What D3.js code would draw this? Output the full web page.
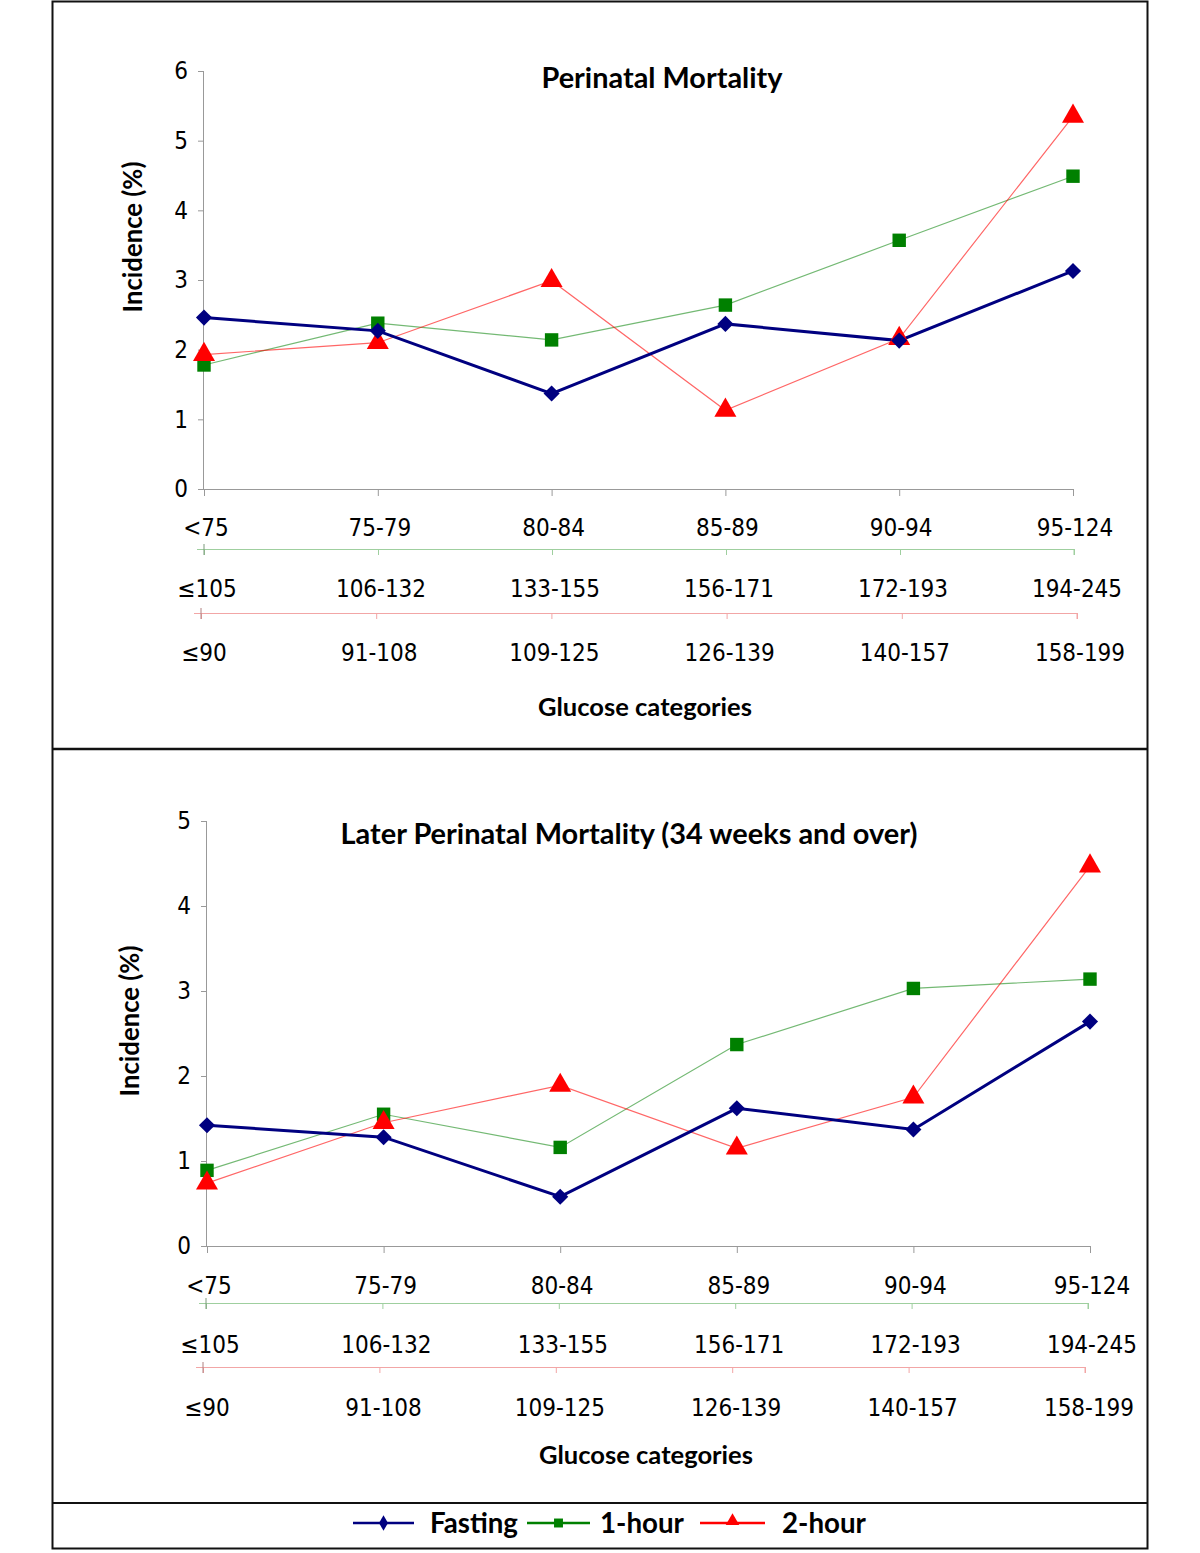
<!DOCTYPE html>
<html><head><meta charset="utf-8">
<script src="https://cdn.jsdelivr.net/npm/d3@7"></script>
<style>body{margin:0;background:#fff}svg{display:block}</style>
</head><body>
<script>
const categoriesFasting = ["<75","75-79","80-84","85-89","90-94","95-124"];
const categories1h = ["≤105","106-132","133-155","156-171","172-193","194-245"];
const categories2h = ["≤90","91-108","109-125","126-139","140-157","158-199"];
const seriesNames = ["Fasting","1-hour","2-hour"];

const perinatalFasting = [2.46, 2.27, 1.37, 2.37, 2.13, 3.13];
const perinatal1h      = [1.78, 2.38, 2.14, 2.64, 3.57, 4.49];
const perinatal2h      = [1.93, 2.10, 2.99, 1.13, 2.16, 5.35];

const laterFasting = [1.42, 1.28, 0.58, 1.62, 1.37, 2.64];
const later1h      = [0.89, 1.55, 1.16, 2.37, 3.03, 3.14];
const later2h      = [0.74, 1.45, 1.89, 1.15, 1.75, 4.47];

const yTicksTop = [0,1,2,3,4,5,6];
const yTicksBottom = [0,1,2,3,4,5];

const W = 1200, H = 1553;
const svg = d3.select("body").append("svg").attr("width", W).attr("height", H);
const BOLD = "Lato, 'Open Sans', sans-serif";
const TICK = "'DejaVu Sans Condensed', 'DejaVu Sans', sans-serif";
const TS = 24;

function fit(t, w){
  const n = t.node(); const cur = parseFloat(t.attr("font-size"));
  const len = n.getComputedTextLength();
  if (len > 0) t.attr("font-size", (cur * w / len).toFixed(2));
}

// borders
svg.append("rect").attr("x",52.5).attr("y",1.5).attr("width",1095).attr("height",1547)
  .attr("fill","none").attr("stroke","#111").attr("stroke-width",2);
svg.append("line").attr("x1",52).attr("x2",1148).attr("y1",749).attr("y2",749).attr("stroke","#111").attr("stroke-width",2.5);
svg.append("line").attr("x1",52).attr("x2",1148).attr("y1",1503).attr("y2",1503).attr("stroke","#111").attr("stroke-width",2);

const colors = {f:"#000080", h1:"#008000", h2:"#ff0000"};

function drawPanel(cfg){
  const g = svg.append("g");
  const x = d3.scalePoint().domain(categoriesFasting).range(cfg.xr);
  const y = d3.scaleLinear().domain(cfg.yd).range(cfg.yr);
  const x1 = d3.scalePoint().domain(categories1h).range(cfg.x1r);
  const x2 = d3.scalePoint().domain(categories2h).range(cfg.x2r);

  // y axis
  const ya = g.append("g").attr("transform",`translate(${cfg.xr[0]},0)`)
    .call(d3.axisLeft(y).tickValues(cfg.yt).tickSize(6).tickPadding(10).tickFormat(d3.format("d")));
  ya.selectAll("path,line").attr("stroke","#999");
  ya.select(".domain").attr("d",`M-0.5,${cfg.yr[1]}V${cfg.yr[0]}`).attr("stroke","#999");
  ya.selectAll("text").attr("font-family",TICK).attr("font-size",TS).attr("fill","#000");

  // x axis main
  const xa = g.append("g").attr("transform",`translate(0,${cfg.yr[0]})`)
    .call(d3.axisBottom(x).tickSize(7).tickFormat(""));
  xa.selectAll("path,line").attr("stroke","#999");
  xa.select(".domain").attr("d",`M${cfg.xr[0]-6},0.5H${cfg.xr[1]}`);

  // labels row 1
  g.append("g").selectAll("text").data(categoriesFasting).join("text")
    .attr("x",(d)=>x(d)+cfg.l1dx).attr("y",cfg.l1y).attr("dy","0.35em")
    .attr("text-anchor","middle").attr("font-family",TICK).attr("font-size",TS).text(d=>d);

  // green axis
  const ga = g.append("g").attr("transform",`translate(0,${cfg.gy})`)
    .call(d3.axisBottom(x1).tickSize(6).tickFormat(""));
  ga.selectAll("path,line").attr("stroke","#9fcf9f");
  ga.select(".domain").attr("d",`M${cfg.x1r[0]-7},0.5H${cfg.x1r[1]}V6`);
  ga.append("line").attr("x1",cfg.x1r[0]).attr("x2",cfg.x1r[0]).attr("y1",-5).attr("y2",6).attr("stroke","#7a9a7a");
  g.append("g").selectAll("text").data(categories1h).join("text")
    .attr("x",(d)=>x1(d)+cfg.l2dx).attr("y",cfg.l2y).attr("dy","0.35em")
    .attr("text-anchor","middle").attr("font-family",TICK).attr("font-size",TS).text(d=>d);

  // red axis
  const ra = g.append("g").attr("transform",`translate(0,${cfg.ry})`)
    .call(d3.axisBottom(x2).tickSize(6).tickFormat(""));
  ra.selectAll("path,line").attr("stroke","#f2a6a6");
  ra.select(".domain").attr("d",`M${cfg.x2r[0]-7},0.5H${cfg.x2r[1]}V6`);
  ra.append("line").attr("x1",cfg.x2r[0]).attr("x2",cfg.x2r[0]).attr("y1",-5).attr("y2",6).attr("stroke","#b08080");
  g.append("g").selectAll("text").data(categories2h).join("text")
    .attr("x",(d)=>x2(d)+cfg.l3dx).attr("y",cfg.l3y).attr("dy","0.35em")
    .attr("text-anchor","middle").attr("font-family",TICK).attr("font-size",TS).text(d=>d);

  // titles
  const t = g.append("text").attr("x",cfg.titleX).attr("y",cfg.titleY).attr("dy","0.35em")
    .attr("text-anchor","middle").attr("font-family",BOLD).attr("font-weight","bold")
    .attr("font-size",24).text(cfg.title);
  fit(t, cfg.titleW);
  const xl = g.append("text").attr("x",cfg.xlX).attr("y",cfg.xlY).attr("dy","0.35em")
    .attr("text-anchor","middle").attr("font-family",BOLD).attr("font-weight","bold")
    .attr("font-size",24).text("Glucose categories");
  fit(xl, 214);
  const yl = g.append("text").attr("transform",`translate(${cfg.ylX},${cfg.ylY}) rotate(-90)`).attr("dy","0.35em")
    .attr("text-anchor","middle").attr("font-family",BOLD).attr("font-weight","bold")
    .attr("font-size",24).text("Incidence (%)");
  fit(yl, 151);

  const line = d3.line().x((d,i)=>x(categoriesFasting[i])).y(d=>y(d));
  g.append("path").datum(cfg.h1).attr("d",line).attr("fill","none").attr("stroke",colors.h1).attr("stroke-opacity",0.55).attr("stroke-width",1.2);
  g.append("path").datum(cfg.h2).attr("d",line).attr("fill","none").attr("stroke",colors.h2).attr("stroke-opacity",0.6).attr("stroke-width",1.2);
  g.append("path").datum(cfg.f).attr("d",line).attr("fill","none").attr("stroke",colors.f).attr("stroke-width",3);

  const sq = d3.symbol().type(d3.symbolSquare).size(180);
  const tri = d3.symbol().type(d3.symbolTriangle).size(210);
  const dia = d3.symbol().type(d3.symbolSquare).size(130);
  g.append("g").selectAll("path").data(cfg.h1).join("path")
    .attr("transform",(d,i)=>`translate(${x(categoriesFasting[i])},${y(d)})`).attr("d",sq).attr("fill",colors.h1);
  g.append("g").selectAll("path").data(cfg.h2).join("path")
    .attr("transform",(d,i)=>`translate(${x(categoriesFasting[i])},${y(d)})`).attr("d",tri).attr("fill",colors.h2);
  g.append("g").selectAll("path").data(cfg.f).join("path")
    .attr("transform",(d,i)=>`translate(${x(categoriesFasting[i])},${y(d)}) rotate(45)`).attr("d",dia).attr("fill",colors.f);
}

drawPanel({
  xr:[204,1073], yd:[0,6], yr:[489,71], yt:yTicksTop,
  x1r:[204,1074], x2r:[201,1077], gy:549, ry:613,
  l1y:528, l2y:589, l3y:653, l1dx:2, l2dx:3, l3dx:3,
  title:"Perinatal Mortality", titleX:662, titleY:78, titleW:241,
  xlX:645, xlY:707, ylX:133, ylY:237,
  f:perinatalFasting, h1:perinatal1h, h2:perinatal2h
});
drawPanel({
  xr:[207,1090], yd:[0,5], yr:[1246,821], yt:yTicksBottom,
  x1r:[206,1088], x2r:[203,1085], gy:1303, ry:1367,
  l1y:1286, l2y:1345, l3y:1408, l1dx:2, l2dx:4, l3dx:4,
  title:"Later Perinatal Mortality (34 weeks and over)", titleX:629, titleY:834, titleW:577,
  xlX:646, xlY:1455, ylX:130, ylY:1021,
  f:laterFasting, h1:later1h, h2:later2h
});

// legend
const lg = svg.append("g");
const legItems = [
  {name:seriesNames[0], c:colors.f, x0:353, x1:414, tx:430, sym:"dia"},
  {name:seriesNames[1], c:colors.h1, x0:527, x1:590, tx:600, sym:"sq"},
  {name:seriesNames[2], c:colors.h2, x0:700, x1:765, tx:782, sym:"tri"}
];
const ly = 1523;
legItems.forEach(it=>{
  lg.append("line").attr("x1",it.x0).attr("x2",it.x1).attr("y1",ly).attr("y2",ly).attr("stroke",it.c).attr("stroke-width",2.5);
  const cx = (it.x0+it.x1)/2;
  let p;
  if (it.sym==="dia") p = d3.symbol().type(d3.symbolDiamond).size(70)();
  else if (it.sym==="sq") p = d3.symbol().type(d3.symbolSquare).size(80)();
  else p = d3.symbol().type(d3.symbolTriangle).size(80)();
  lg.append("path").attr("d",p).attr("transform",`translate(${cx},${ly-(it.sym==="tri"?2:0)})`).attr("fill",it.c);
  const t = lg.append("text").attr("x",it.tx).attr("y",ly).attr("dy","0.35em")
    .attr("font-family",BOLD).attr("font-weight","bold").attr("font-size",26).text(it.name);
  fit(t, it.name==="Fasting"?88:84);
});
</script>
</body></html>
